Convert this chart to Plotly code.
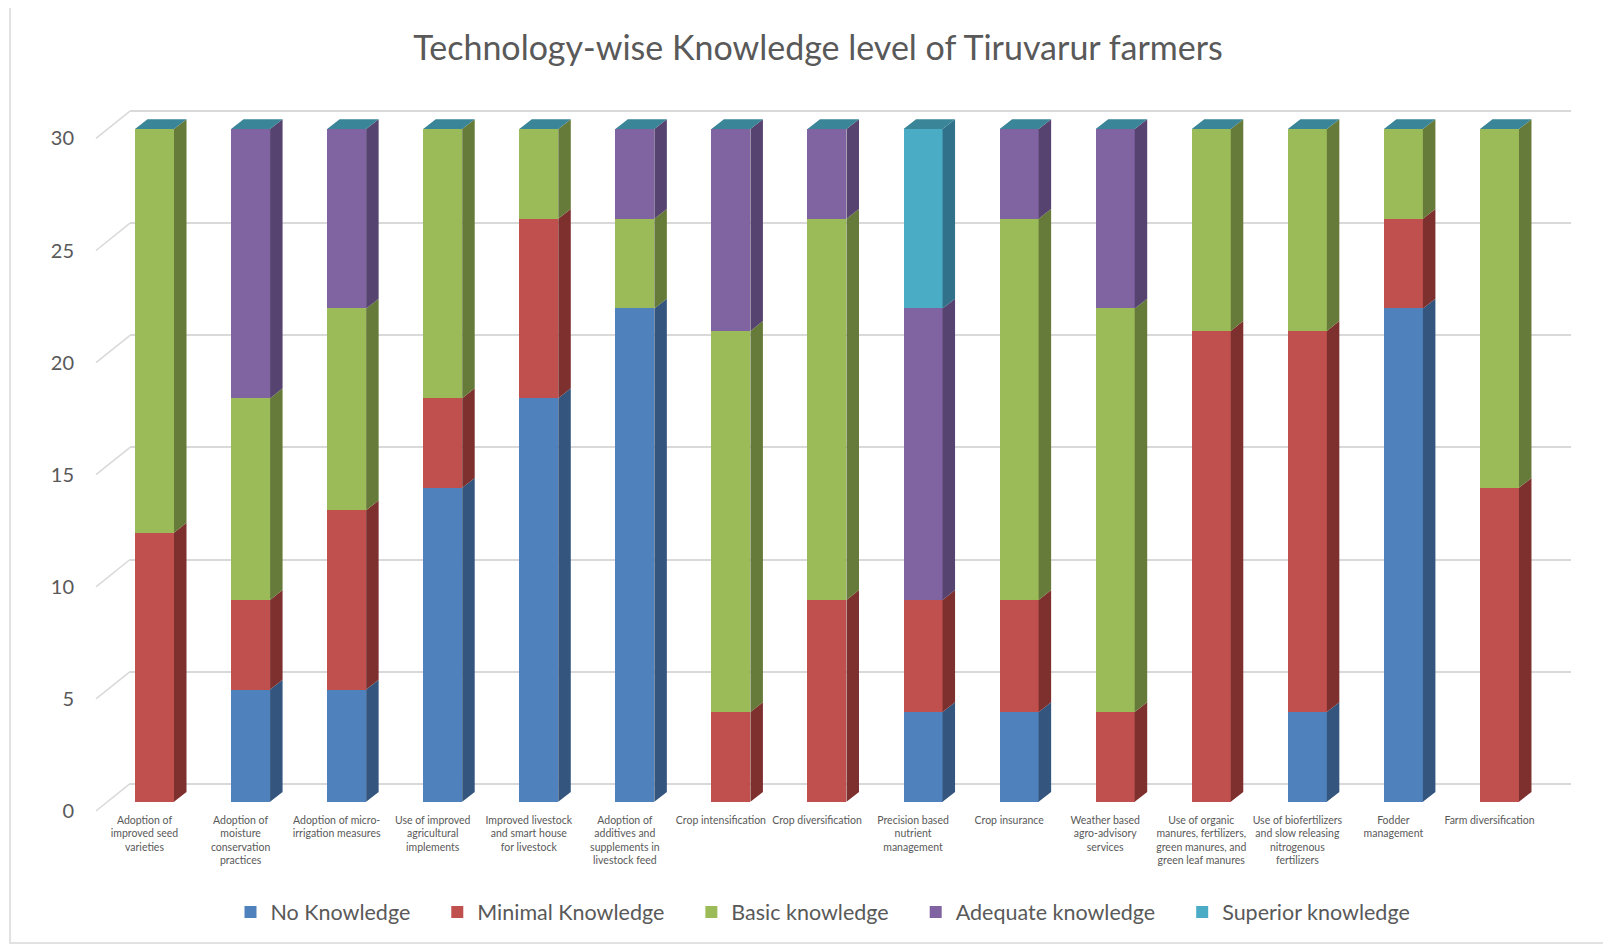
import plotly.graph_objects as go

# ---------------- data ----------------
categories = [
    "Adoption of<br>improved seed<br>varieties",
    "Adoption of<br>moisture<br>conservation<br>practices",
    "Adoption of micro-<br>irrigation measures",
    "Use of improved<br>agricultural<br>implements",
    "Improved livestock<br>and smart house<br>for livestock",
    "Adoption of<br>additives and<br>supplements in<br>livestock feed",
    "Crop intensification",
    "Crop diversification",
    "Precision based<br>nutrient<br>management",
    "Crop insurance",
    "Weather based<br>agro-advisory<br>services",
    "Use of organic<br>manures, fertilizers,<br>green manures, and<br>green leaf manures",
    "Use of biofertilizers<br>and slow releasing<br>nitrogenous<br>fertilizers",
    "Fodder<br>management",
    "Farm diversification",
]
no_knowledge       = [0, 5, 5, 14, 18, 22, 0, 0, 4, 4, 0, 0, 4, 22, 0]
minimal_knowledge  = [12, 4, 8, 4, 8, 0, 4, 9, 5, 5, 4, 21, 17, 4, 14]
basic_knowledge    = [18, 9, 9, 12, 4, 4, 17, 17, 0, 17, 18, 9, 9, 4, 16]
adequate_knowledge = [0, 12, 8, 0, 0, 4, 9, 4, 13, 4, 8, 0, 0, 0, 0]
superior_knowledge = [0, 0, 0, 0, 0, 0, 0, 0, 8, 0, 0, 0, 0, 0, 0]
series_names = ["No Knowledge", "Minimal Knowledge", "Basic knowledge",
                "Adequate knowledge", "Superior knowledge"]
y_ticks = [0, 5, 10, 15, 20, 25, 30]

series_values = [no_knowledge, minimal_knowledge, basic_knowledge,
                 adequate_knowledge, superior_knowledge]
front_colors = ["#4F81BD", "#C0504D", "#9BBB59", "#8064A2", "#4BACC6"]
side_colors = ["#34557D", "#7E302E", "#667A39", "#56436F", "#32718A"]
CAP_COLOR = "#3A8597"
TXT = "#595959"
GRID = "#D9D9D9"
FONT = "Lato"
NB = "\u00a0"
legend_pad = [4, 4, 4, 4, 0]

# ---------------- geometry (reference pixels) ----------------
OFF = 8                      # page body margin
W, H = 1611 - OFF, 948 - OFF
L, R, T, B = 130, 1571, 100, 812
UNIT = 22.42
Y0_BAR, Y0_GRID, Y0_LBL = 801.7, 783.7, 811.0
SPACING = 96.07
X0_CENTER = 154.5
BAR_W = 39 / SPACING
DX = 12.5 / SPACING
DY = 9.8 / UNIT


def yr(zero_px):
    return [(zero_px - B) / UNIT, (zero_px - T) / UNIT]


def pxx(p):
    return (p - L) / (R - L)


def pxy(p):
    return (B - p) / (B - T)


n = len(categories)
xs = list(range(n))

fig = go.Figure()

# front faces
for k, vals in enumerate(series_values):
    fig.add_trace(go.Bar(
        x=xs, y=vals, name=series_names[k] + NB * legend_pad[k], width=BAR_W,
        marker=dict(color=front_colors[k], line=dict(width=0)),
    ))

# side faces
for k, vals in enumerate(series_values):
    sx, sy = [], []
    for i in range(n):
        if vals[i] <= 0:
            continue
        base = sum(series_values[j][i] for j in range(k))
        top = base + vals[i]
        xr = i + BAR_W / 2
        sx += [xr, xr + DX, xr + DX, xr, xr, None]
        sy += [base, base + DY, top + DY, top, base, None]
    fig.add_trace(go.Scatter(x=sx, y=sy, mode="lines", fill="toself",
                             fillcolor=side_colors[k],
                             line=dict(width=0, color=side_colors[k]),
                             showlegend=False, hoverinfo="skip"))

# top caps
cx, cy = [], []
for i in range(n):
    tot = sum(v[i] for v in series_values)
    xl, xr = i - BAR_W / 2, i + BAR_W / 2
    cx += [xl, xl + DX, xr + DX, xr, xl, None]
    cy += [tot, tot + DY, tot + DY, tot, tot, None]
fig.add_trace(go.Scatter(x=cx, y=cy, mode="lines", fill="toself",
                         fillcolor=CAP_COLOR, line=dict(width=0, color=CAP_COLOR),
                         showlegend=False, hoverinfo="skip"))

# helper invisible traces so overlay axes render
for ax in ["y2", "y3"]:
    fig.add_trace(go.Scatter(x=[0], y=[0], yaxis=ax, mode="markers",
                             marker=dict(opacity=0), showlegend=False,
                             hoverinfo="skip"))

shapes = []
for v in y_ticks:
    shapes.append(dict(type="line", xref="paper", yref="y3",
                       x0=pxx(96), y0=v, x1=pxx(130),
                       y1=v + (Y0_LBL - Y0_GRID) / UNIT,
                       line=dict(color=GRID, width=1.5), layer="below"))
shapes.append(dict(type="rect", xref="paper", yref="paper",
                   x0=pxx(10), x1=pxx(1608), y0=pxy(4.5), y1=pxy(943),
                   line=dict(color=GRID, width=1.5), layer="below"))

fig.update_layout(
    width=W, height=H,
    margin=dict(l=L - OFF, r=W - (R - OFF), t=T - OFF, b=H - (B - OFF)),
    paper_bgcolor="white", plot_bgcolor="rgba(0,0,0,0)",
    barmode="stack",
    font=dict(family=FONT, color=TXT),
    title=dict(text="Technology-wise Knowledge level of Tiruvarur farmers",
               x=(818 - OFF) / W, xanchor="center", xref="container",
               y=1 - (48 - OFF) / H, yanchor="middle", yref="container",
               font=dict(size=34, color=TXT, family=FONT)),
    xaxis=dict(range=[(L - X0_CENTER) / SPACING, (R - X0_CENTER) / SPACING],
               tickvals=xs, ticktext=categories, tickangle=0,
               tickfont=dict(size=10.5, color=TXT, family=FONT),
               showgrid=False, zeroline=False, showline=False, ticks="",
               ticklabelshift=-10, fixedrange=True),
    yaxis=dict(range=yr(Y0_BAR), showgrid=False, zeroline=False,
               showticklabels=False, showline=False),
    yaxis2=dict(range=yr(Y0_GRID), overlaying="y", tickvals=y_ticks,
                showgrid=True, gridcolor=GRID, gridwidth=1.5,
                showticklabels=False, zeroline=False, showline=False),
    yaxis3=dict(range=yr(Y0_LBL), overlaying="y", anchor="free", position=0,
                side="left", tickvals=y_ticks, showgrid=False, zeroline=False,
                showline=False, ticks="",
                tickfont=dict(size=20, color=TXT, family=FONT),
                ticklabelstandoff=56),
    legend=dict(orientation="h", x=pxx(823), xanchor="center",
                y=pxy(912), yanchor="middle",
                font=dict(size=21.5, color=TXT, family=FONT),
                traceorder="normal"),
    shapes=shapes,
    showlegend=True,
)

fig.write_html("out.html")
